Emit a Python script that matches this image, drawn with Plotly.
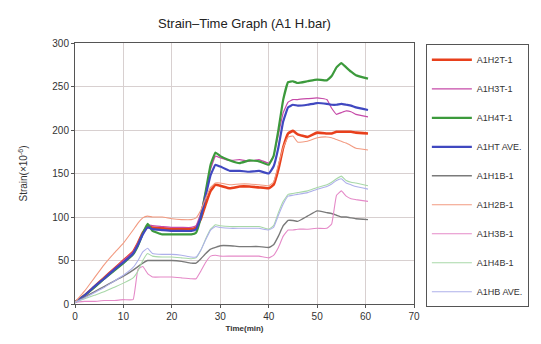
import plotly.graph_objects as go

time_min = [0, 2, 4, 6, 8, 10, 12, 13, 14, 15, 16, 18, 20, 22, 24, 25, 26, 27, 28, 29, 30,
            32, 34, 36, 38, 40, 41, 42, 43, 44, 45, 46, 48, 50, 52, 53, 54, 55, 56, 57, 58, 60.5]

a1h2t = [2, 10, 20, 30, 40, 50, 60, 70, 82, 89, 88, 87, 86, 86, 86, 88, 98, 115, 130, 137, 136,
         133, 135, 135, 134, 133, 137, 155, 180, 196, 199, 195, 192, 197, 196, 196, 198, 198, 198, 198, 197, 196]
a1h3t = [2, 10, 20, 30, 40, 50, 60, 70, 82, 91, 90, 89, 88, 88, 88, 90, 105, 130, 155, 170, 168,
         165, 166, 164, 166, 162, 170, 195, 220, 232, 235, 235, 236, 237, 235, 225, 218, 220, 222, 221, 218, 215]
a1h4t = [2, 10, 19, 29, 38, 47, 57, 67, 81, 92, 84, 80, 80, 80, 80, 82, 100, 130, 160, 174, 170,
         165, 162, 165, 164, 160, 170, 200, 235, 255, 256, 254, 256, 258, 257, 262, 272, 277, 272, 267, 263, 259]
a1ht_ave = [2, 10, 20, 29, 39, 48, 58, 68, 80, 88, 86, 85, 84, 84, 84, 86, 100, 125, 148, 160, 158,
            153, 153, 152, 153, 150, 158, 180, 210, 226, 229, 228, 229, 231, 230, 229, 229, 230, 229, 228, 226, 223]
a1h1b = [2, 8, 14, 20, 26, 32, 39, 43, 47, 50, 50, 50, 50, 49, 47, 47, 52, 58, 63, 65, 67,
         67, 66, 66, 66, 65, 68, 78, 90, 96, 96, 95, 101, 107, 105, 104, 102, 100, 100, 99, 98, 97]
a1h2b = [2, 15, 30, 45, 58, 70, 85, 93, 99, 101, 100, 100, 98, 97, 97, 99, 108, 122, 134, 139, 139,
         137, 138, 138, 137, 136, 140, 160, 180, 192, 193, 186, 187, 191, 192, 191, 189, 187, 185, 182, 179, 177]
a1h3b = [2, 3, 3, 4, 4, 5, 5, 40, 43, 35, 31, 31, 31, 30, 29, 29, 38, 48, 55, 56, 55,
         55, 55, 55, 55, 53, 56, 65, 78, 85, 85, 86, 86, 87, 87, 92, 125, 130, 124, 121, 120, 118]
a1h4b = [2, 6, 10, 14, 19, 24, 30, 38, 50, 58, 55, 54, 54, 53, 52, 53, 62, 75, 86, 91, 90,
         89, 89, 89, 89, 86, 90, 105, 118, 126, 127, 128, 130, 134, 137, 140, 144, 147, 142, 140, 139, 136]
a1hb_ave = [2, 7, 13, 19, 26, 33, 42, 50, 60, 64, 58, 57, 57, 56, 54, 54, 62, 74, 85, 89, 88,
            87, 87, 87, 87, 85, 88, 102, 115, 124, 125, 126, 128, 132, 135, 138, 142, 144, 139, 137, 135, 132]

series_names = ["A1H2T-1", "A1H3T-1", "A1H4T-1", "A1HT AVE.", "A1H1B-1",
                "A1H2B-1", "A1H3B-1", "A1H4B-1", "A1HB AVE."]
series_values = [a1h2t, a1h3t, a1h4t, a1ht_ave, a1h1b, a1h2b, a1h3b, a1h4b, a1hb_ave]
colors = ["#e8401c", "#c64aa8", "#3c9a3c", "#4048c0", "#7a7a7a",
          "#f29a80", "#e58ac8", "#a8d8a8", "#aeb0ea"]
widths = [2.6, 1.2, 2.2, 2.2, 1.4, 1.1, 1.1, 1.1, 1.1]

x_ticks = [0, 10, 20, 30, 40, 50, 60, 70]
y_ticks = [0, 50, 100, 150, 200, 250, 300]

fig = go.Figure()
for name, vals, c, w in zip(series_names, series_values, colors, widths):
    fig.add_trace(go.Scatter(x=time_min, y=vals, mode="lines", name=name,
                             legendgroup=name,
                             line=dict(color=c, width=w, shape="spline", smoothing=0.3)))

font_family = "Arial, Liberation Sans, sans-serif"
fig.update_layout(
    width=541, height=344,
    margin=dict(l=75, r=116, t=43, b=36),
    paper_bgcolor="white", plot_bgcolor="white",
    font=dict(family=font_family, size=10, color="#333"),
    title=dict(text="Strain–Time Graph (A1 H.bar)", x=0.5, xref="paper",
               y=0.945, yref="container", xanchor="center",
               font=dict(size=13, color="#222", family=font_family)),
    showlegend=True,
    legend=dict(x=1.035, xanchor="left", y=0.995, yanchor="top",
                bordercolor="#555", borderwidth=1, bgcolor="white",
                font=dict(size=9, color="#333"), tracegroupgap=10,
                itemwidth=40, maxheight=320),
)
fig.update_xaxes(range=[0, 70], tickvals=x_ticks, showgrid=True, gridcolor="#d8d0d0",
                 zeroline=False, showline=True, linecolor="#555", linewidth=1, mirror=True,
                 ticks="outside", ticklen=3, tickcolor="#555",
                 title=dict(text="<b>Time(min)</b>", font=dict(size=8, color="#333"), standoff=4))
fig.update_yaxes(range=[0, 300], tickvals=y_ticks, showgrid=True, gridcolor="#d8d0d0",
                 zeroline=False, showline=True, linecolor="#555", linewidth=1, mirror=True,
                 ticks="outside", ticklen=3, tickcolor="#555",
                 title=dict(text="Strain(×10<sup>-6</sup>)", font=dict(size=10, color="#333"), standoff=22))

fig.write_html("out.html")
